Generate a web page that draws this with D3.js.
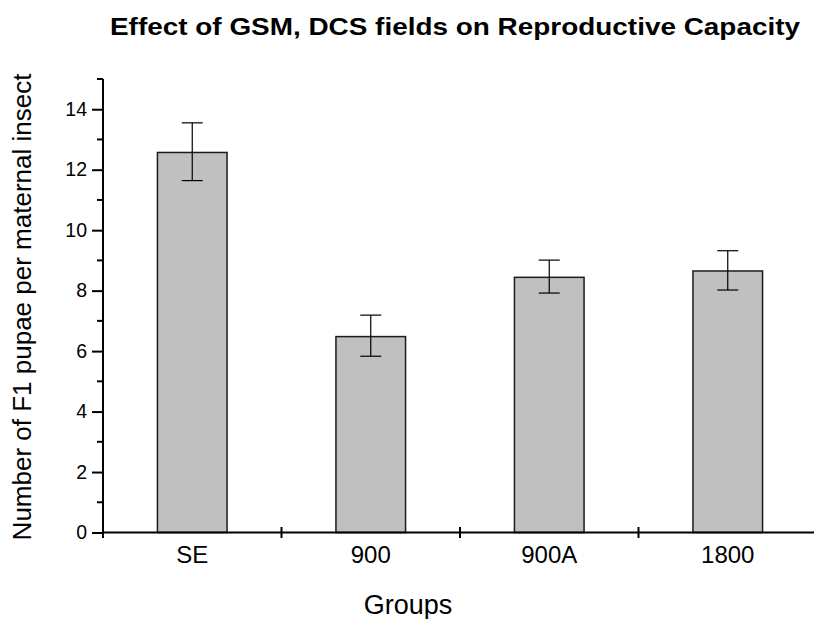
<!DOCTYPE html>
<html>
<head>
<meta charset="utf-8">
<script src="https://cdn.jsdelivr.net/npm/d3@7"></script>
<style>
  body { margin: 0; background: #fff; }
  text { font-family: "Liberation Sans", Arial, sans-serif; fill: #000; }
</style>
</head>
<body>
<div id="chart"></div>
<script>
var svgWidth = 814;
var svgHeight = 619;

// data
var groups = ["SE", "900", "900A", "1800"];
var means = [12.57, 6.48, 8.44, 8.65];
var errLow = [11.64, 5.83, 7.92, 8.02];
var errHigh = [13.55, 7.19, 9.01, 9.32];
var majorTicks = [0, 2, 4, 6, 8, 10, 12, 14];
var minorTicks = [1, 3, 5, 7, 9, 11, 13, 15];

var plot = { left: 103, right: 817, top: 79, bottom: 532.5 };

var svg = d3.select("#chart")
  .append("svg")
  .attr("width", svgWidth)
  .attr("height", svgHeight);

var x = d3.scaleBand()
  .domain(groups)
  .range([plot.left, plot.right])
  .padding(0);

var y = d3.scaleLinear()
  .domain([0, 15])
  .range([plot.bottom, plot.top]);

var barW = x.bandwidth() * 0.39;

var rows = groups.map(function(g, i) {
  return { group: g, mean: means[i], lo: errLow[i], hi: errHigh[i] };
});

// bars
svg.selectAll("rect.bar")
  .data(rows)
  .enter()
  .append("rect")
  .attr("class", "bar")
  .attr("x", d => x(d.group) + x.bandwidth() / 2 - barW / 2)
  .attr("y", d => y(d.mean))
  .attr("width", barW)
  .attr("height", d => y(0) - y(d.mean))
  .attr("fill", "#c0c0c0")
  .attr("stroke", "#1a1a1a")
  .attr("stroke-width", 1.5);

// error bars
var capW = 21;
var eb = svg.selectAll("g.err")
  .data(rows)
  .enter()
  .append("g")
  .attr("class", "err")
  .attr("stroke", "#000")
  .attr("stroke-width", 1.2);

eb.append("line")
  .attr("x1", d => x(d.group) + x.bandwidth() / 2)
  .attr("x2", d => x(d.group) + x.bandwidth() / 2)
  .attr("y1", d => y(d.lo))
  .attr("y2", d => y(d.hi));

eb.append("line")
  .attr("x1", d => x(d.group) + x.bandwidth() / 2 - capW / 2)
  .attr("x2", d => x(d.group) + x.bandwidth() / 2 + capW / 2)
  .attr("y1", d => y(d.hi))
  .attr("y2", d => y(d.hi));

eb.append("line")
  .attr("x1", d => x(d.group) + x.bandwidth() / 2 - capW / 2)
  .attr("x2", d => x(d.group) + x.bandwidth() / 2 + capW / 2)
  .attr("y1", d => y(d.lo))
  .attr("y2", d => y(d.lo));

// y axis
var leftAxis = d3.axisLeft(y)
  .tickValues(majorTicks)
  .tickSize(11)
  .tickPadding(5)
  .tickFormat(d3.format("d"));

var yAxis = svg.append("g")
  .attr("transform", `translate(${plot.left}, 0)`)
  .call(leftAxis);

yAxis.select(".domain").attr("stroke-width", 2).attr("d", `M0,${y(0)}V${y(15)}`);
yAxis.selectAll(".tick line").attr("stroke-width", 2);
yAxis.selectAll(".tick text")
  .style("font-size", "19.5px");

yAxis.selectAll("line.minor")
  .data(minorTicks)
  .enter()
  .append("line")
  .attr("class", "minor")
  .attr("x1", -6)
  .attr("x2", 0)
  .attr("y1", d => y(d))
  .attr("y2", d => y(d))
  .attr("stroke", "#000")
  .attr("stroke-width", 2);

// x axis
svg.append("line")
  .attr("x1", plot.left)
  .attr("x2", plot.right)
  .attr("y1", y(0))
  .attr("y2", y(0))
  .attr("stroke", "#000")
  .attr("stroke-width", 2);

svg.selectAll("line.xtick")
  .data(groups)
  .enter()
  .append("line")
  .attr("class", "xtick")
  .attr("x1", d => x(d))
  .attr("x2", d => x(d))
  .attr("y1", y(0) - 5.5)
  .attr("y2", y(0) + 5.5)
  .attr("stroke", "#000")
  .attr("stroke-width", 2);

svg.selectAll("text.xlabel")
  .data(groups)
  .enter()
  .append("text")
  .attr("class", "xlabel")
  .attr("x", d => x(d) + x.bandwidth() / 2)
  .attr("y", 563)
  .attr("text-anchor", "middle")
  .attr("font-size", 24)
  .text(d => d);

// titles
svg.append("text")
  .attr("x", 110)
  .attr("y", 35)
  .attr("font-size", 23)
  .attr("font-weight", "bold")
  .attr("textLength", 690)
  .attr("lengthAdjust", "spacingAndGlyphs")
  .text("Effect of GSM, DCS fields on Reproductive Capacity");

svg.append("text")
  .attr("x", 408)
  .attr("y", 614)
  .attr("text-anchor", "middle")
  .attr("font-size", 27)
  .text("Groups");

svg.append("text")
  .attr("transform", "translate(31, 307) rotate(-90)")
  .attr("text-anchor", "middle")
  .attr("font-size", 26)
  .text("Number of F1 pupae per maternal insect");
</script>
</body>
</html>
